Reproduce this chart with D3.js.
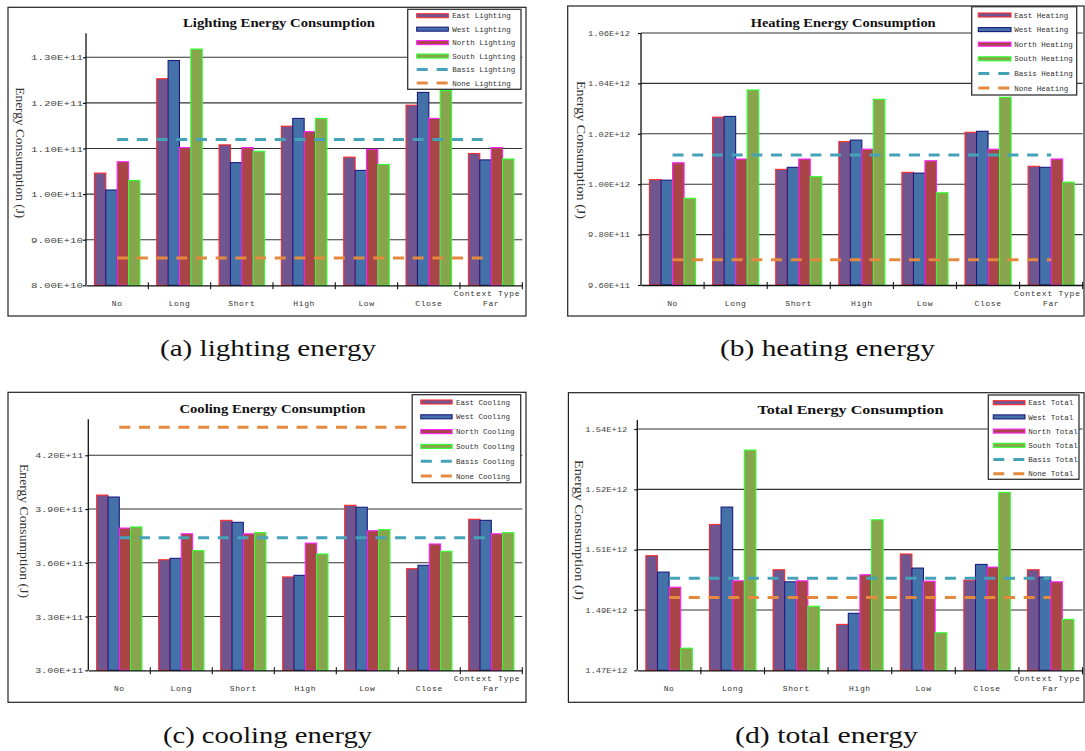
<!DOCTYPE html>
<html><head><meta charset="utf-8">
<script src="https://cdn.jsdelivr.net/npm/d3@7"></script>
<style>body{margin:0;background:#fff}svg{display:block;background:#fff}</style>
</head><body>
<svg id="chart" width="1085" height="751"></svg>
<script>
// ---------- DATA ----------
const categories = ["No", "Long", "Short", "High", "Low", "Close", "Far"];
const seriesNames = ["East", "West", "North", "South"];

const lightingEast  = [1.046e11, 1.253e11, 1.108e11, 1.149e11, 1.081e11, 1.195e11, 1.089e11];
const lightingWest  = [1.009e11, 1.293e11, 1.069e11, 1.166e11, 1.052e11, 1.223e11, 1.075e11];
const lightingNorth = [1.071e11, 1.102e11, 1.102e11, 1.137e11, 1.098e11, 1.166e11, 1.102e11];
const lightingSouth = [1.030e11, 1.318e11, 1.094e11, 1.166e11, 1.065e11, 1.227e11, 1.077e11];
const lightingBasis = [1.12e11, 1.12e11, 1.12e11, 1.12e11, 1.12e11, 1.12e11, 1.12e11];
const lightingNone  = [8.6e10, 8.6e10, 8.6e10, 8.6e10, 8.6e10, 8.6e10, 8.6e10];
const lightingTicks = [8.0e10, 9.0e10, 1.0e11, 1.1e11, 1.2e11, 1.3e11];
const lightingTickLabels = ["8.00E+10", "9.00E+10", "1.00E+11", "1.10E+11", "1.20E+11", "1.30E+11"];

const heatingEast  = [1.0018e12, 1.0266e12, 1.0059e12, 1.0169e12, 1.0047e12, 1.0206e12, 1.0071e12];
const heatingWest  = [1.0016e12, 1.0269e12, 1.0067e12, 1.0175e12, 1.0044e12, 1.0210e12, 1.0067e12];
const heatingNorth = [1.0085e12, 1.0100e12, 1.0100e12, 1.0139e12, 1.0093e12, 1.0139e12, 1.0100e12];
const heatingSouth = [0.9944e12, 1.0374e12, 1.0030e12, 1.0337e12, 0.9966e12, 1.0345e12, 1.0008e12];
const heatingBasis = [1.0116e12, 1.0116e12, 1.0116e12, 1.0116e12, 1.0116e12, 1.0116e12, 1.0116e12];
const heatingNone  = [9.70e11, 9.70e11, 9.70e11, 9.70e11, 9.70e11, 9.70e11, 9.70e11];
const heatingTicks = [9.6e11, 9.8e11, 1.0e12, 1.02e12, 1.04e12, 1.06e12];
const heatingTickLabels = ["9.60E+11", "9.80E+11", "1.00E+12", "1.02E+12", "1.04E+12", "1.06E+12"];

const coolingEast  = [3.978e11, 3.617e11, 3.837e11, 3.521e11, 3.921e11, 3.567e11, 3.843e11];
const coolingWest  = [3.967e11, 3.625e11, 3.826e11, 3.530e11, 3.910e11, 3.586e11, 3.837e11];
const coolingNorth = [3.794e11, 3.762e11, 3.762e11, 3.710e11, 3.779e11, 3.705e11, 3.762e11];
const coolingSouth = [3.800e11, 3.668e11, 3.768e11, 3.649e11, 3.785e11, 3.664e11, 3.768e11];
const coolingBasis = [3.74e11, 3.74e11, 3.74e11, 3.74e11, 3.74e11, 3.74e11, 3.74e11];
const coolingNone  = [4.356e11, 4.356e11, 4.356e11, 4.356e11, 4.356e11, 4.356e11, 4.356e11];
const coolingTicks = [3.0e11, 3.3e11, 3.6e11, 3.9e11, 4.2e11];
const coolingTickLabels = ["3.00E+11", "3.30E+11", "3.60E+11", "3.90E+11", "4.20E+11"];

const totalEast  = [1.5042e12, 1.5135e12, 1.5000e12, 1.4837e12, 1.5047e12, 1.4969e12, 1.5000e12];
const totalWest  = [1.4993e12, 1.5187e12, 1.4964e12, 1.4870e12, 1.5005e12, 1.5016e12, 1.4978e12];
const totalNorth = [1.4948e12, 1.4967e12, 1.4967e12, 1.4985e12, 1.4966e12, 1.5008e12, 1.4964e12];
const totalSouth = [1.4766e12, 1.5357e12, 1.4891e12, 1.5149e12, 1.4812e12, 1.5231e12, 1.4852e12];
const totalBasis = [1.4975e12, 1.4975e12, 1.4975e12, 1.4975e12, 1.4975e12, 1.4975e12, 1.4975e12];
const totalNone  = [1.4917e12, 1.4917e12, 1.4917e12, 1.4917e12, 1.4917e12, 1.4917e12, 1.4917e12];
const totalTicks = [1.470e12, 1.488e12, 1.506e12, 1.524e12, 1.542e12];
const totalTickLabels = ["1.47E+12", "1.49E+12", "1.51E+12", "1.52E+12", "1.54E+12"];

// ---------- STYLE ----------
const fills   = {East: "#6F5690", West: "#4571A9", North: "#A94546", South: "#88A44C"};
const strokes = {East: "#FF2B2B", West: "#1A1A80", North: "#FF22FF", South: "#30FF30"};
const basisColor = "#45A2B8", noneColor = "#E4893D";
const monoFont = "'Liberation Mono','DejaVu Sans Mono',monospace";
const serifFont = "'Liberation Serif','DejaVu Serif',serif";

const svg = d3.select("#chart");

function drawPanel(p) {
  const g = svg.append("g");
  const [fx0, fy0, fx1, fy1] = p.frame;
  g.append("rect").attr("x", fx0).attr("y", fy0).attr("width", fx1 - fx0).attr("height", fy1 - fy0)
    .attr("fill", "#fff").attr("stroke", "#222").attr("stroke-width", 1.2);

  const x = d3.scaleBand().domain(categories).range([p.left, p.right]).padding(0);
  const bw = x.bandwidth();
  const xs = d3.scaleBand().domain(seriesNames).range([bw * 0.135, bw * 0.865]).padding(0);
  const y = d3.scaleLinear().domain([p.ticks[0], p.ticks[p.ticks.length - 1]]).range([p.bottom, p.topTick]);

  // gridlines
  g.append("g").selectAll("line").data(p.ticks.slice(1)).join("line")
    .attr("x1", p.left).attr("x2", p.right)
    .attr("y1", d => y(d)).attr("y2", d => y(d))
    .attr("stroke", "#333").attr("stroke-width", 1.1);

  // bars
  const rows = [];
  seriesNames.forEach((s, si) => {
    p.series[si].forEach((v, ci) => rows.push({s, c: categories[ci], v}));
  });
  g.append("g").selectAll("rect").data(rows).join("rect")
    .attr("x", d => x(d.c) + xs(d.s))
    .attr("width", xs.bandwidth())
    .attr("y", d => y(d.v))
    .attr("height", d => y(p.ticks[0]) - y(d.v))
    .attr("fill", d => fills[d.s])
    .attr("stroke", d => strokes[d.s])
    .attr("stroke-width", 1.1);

  // reference lines
  const line = d3.line().x((d, i) => x(categories[i]) + bw / 2).y(d => y(d));
  [[p.basis, basisColor], [p.none, noneColor]].forEach(([arr, col]) => {
    g.append("path").datum(arr).attr("d", line).attr("fill", "none")
      .attr("stroke", col).attr("stroke-width", 3).attr("stroke-dasharray", "11,8.7");
  });

  // y axis
  const yAxis = d3.axisLeft(y).tickValues(p.ticks).tickFormat((d, i) => p.tickLabels[i])
    .tickSize(3).tickPadding(p.labelGap - 3).tickSizeOuter(0);
  const ya = g.append("g").attr("transform", `translate(${p.left},0)`).call(yAxis);
  ya.select(".domain").remove();
  ya.selectAll("line").attr("stroke", "#111").attr("stroke-width", 1.2);
  ya.selectAll("text").attr("font-family", monoFont).attr("font-size", p.tickFont)
    .attr("fill", "#444").attr("textLength", p.tickLen).attr("lengthAdjust", "spacingAndGlyphs");
  g.append("line").attr("x1", p.left).attr("x2", p.left).attr("y1", p.bottom).attr("y2", p.axisTop)
    .attr("stroke", "#111").attr("stroke-width", 1.3);

  // x axis
  const xAxis = d3.axisBottom(x).tickSize(0).tickSizeOuter(0);
  const xa = g.append("g").attr("transform", `translate(0,${p.bottom})`).call(xAxis);
  xa.select(".domain").attr("stroke", "#111").attr("stroke-width", 1.3);
  xa.selectAll("text").attr("y", 21).attr("dy", 0).attr("font-family", monoFont).attr("font-size", 8)
    .attr("letter-spacing", 0.6).attr("fill", "#333");
  g.append("g").selectAll("line").data(categories.slice(1).concat(["__end"])).join("line")
    .attr("x1", d => d === "__end" ? p.right : x(d)).attr("x2", d => d === "__end" ? p.right : x(d))
    .attr("y1", p.bottom - 3).attr("y2", p.bottom + 4).attr("stroke", "#111").attr("stroke-width", 1.1);
  g.append("text").attr("x", p.right - 2).attr("y", p.bottom + 11).attr("text-anchor", "end")
    .attr("font-family", monoFont).attr("font-size", 8).attr("letter-spacing", 0.75).attr("fill", "#333")
    .text("Context Type");

  // y title
  g.append("text").attr("transform", `translate(${p.yTitle[0]},${p.yTitle[1]}) rotate(90)`)
    .attr("text-anchor", "middle").attr("dy", "0.35em")
    .attr("font-family", serifFont).attr("font-size", 12.5).attr("fill", "#333")
    .attr("textLength", p.yTitle[2]).attr("lengthAdjust", "spacingAndGlyphs")
    .text("Energy Consumption (J)");

  // title
  g.append("text").attr("x", p.title[0]).attr("y", p.title[1]).attr("text-anchor", "middle")
    .attr("font-family", serifFont).attr("font-weight", "bold").attr("font-size", 13.5).attr("fill", "#111")
    .attr("textLength", p.title[2]).attr("lengthAdjust", "spacingAndGlyphs")
    .text(p.titleText);

  // legend
  const [lx0, ly0, lx1, ly1] = p.legendBox;
  const lg = g.append("g");
  lg.append("rect").attr("x", lx0).attr("y", ly0).attr("width", lx1 - lx0).attr("height", ly1 - ly0)
    .attr("fill", "#fff").attr("stroke", "#333").attr("stroke-width", 1.3);
  const entries = seriesNames.map(s => ({name: s, type: "bar"}))
    .concat([{name: "Basis", type: "line", color: basisColor}, {name: "None", type: "line", color: noneColor}]);
  entries.forEach((e, i) => {
    const ry = p.legendRow0 + i * p.legendStep;
    if (e.type === "bar") {
      lg.append("rect").attr("x", p.legendSw[0]).attr("y", ry - 2).attr("width", p.legendSw[1] - p.legendSw[0])
        .attr("height", 4).attr("fill", fills[e.name]).attr("stroke", strokes[e.name]).attr("stroke-width", 1.1);
    } else {
      lg.append("line").attr("x1", p.legendSw[0]).attr("x2", p.legendSw[1]).attr("y1", ry).attr("y2", ry)
        .attr("stroke", e.color).attr("stroke-width", 3).attr("stroke-dasharray", "11,9");
    }
    lg.append("text").attr("x", p.legendText).attr("y", ry).attr("dy", "0.35em")
      .attr("font-family", monoFont).attr("font-size", 7.5).attr("fill", "#333")
      .text(`${e.name} ${p.word}`);
  });

  // caption
  svg.append("text").attr("x", p.caption[0]).attr("y", p.caption[1]).attr("text-anchor", "middle")
    .attr("font-family", serifFont).attr("font-size", 24).attr("fill", "#111")
    .attr("textLength", p.caption[2]).attr("lengthAdjust", "spacingAndGlyphs")
    .text(p.captionText);
}

drawPanel({
  frame: [8, 7.3, 526, 316], left: 86, right: 522.3, bottom: 285.3, topTick: 57.3, axisTop: 33.3,
  ticks: lightingTicks, tickLabels: lightingTickLabels, tickFont: 8, tickLen: 52, labelGap: 3,
  series: [lightingEast, lightingWest, lightingNorth, lightingSouth], basis: lightingBasis, none: lightingNone,
  title: [279, 27.3, 192], titleText: "Lighting Energy Consumption", yTitle: [20.7, 152.8, 131],
  legendBox: [407.7, 9.3, 521, 89.3], legendRow0: 15.7, legendStep: 13.46, legendSw: [416.7, 448.3], legendText: 452.3,
  word: "Lighting", caption: [268, 356, 216], captionText: "(a) lighting energy"
});
drawPanel({
  frame: [567.7, 6, 1084, 316], left: 641, right: 1082.7, bottom: 285, topTick: 33, axisTop: 33,
  ticks: heatingTicks, tickLabels: heatingTickLabels, tickFont: 7, tickLen: 42, labelGap: 11,
  series: [heatingEast, heatingWest, heatingNorth, heatingSouth], basis: heatingBasis, none: heatingNone,
  title: [843.2, 26.5, 185], titleText: "Heating Energy Consumption", yTitle: [581, 150, 138],
  legendBox: [971.7, 6.7, 1076.7, 95], legendRow0: 15, legendStep: 14.6, legendSw: [978.3, 1011], legendText: 1014.3,
  word: "Heating", caption: [827.5, 356, 215], captionText: "(b) heating energy"
});
drawPanel({
  frame: [8, 392.3, 526, 702.3], left: 88.3, right: 522.3, bottom: 670.3, topTick: 455.3, axisTop: 419.3,
  ticks: coolingTicks, tickLabels: coolingTickLabels, tickFont: 8, tickLen: 48, labelGap: 5,
  series: [coolingEast, coolingWest, coolingNorth, coolingSouth], basis: coolingBasis, none: coolingNone,
  title: [272.5, 413.3, 186], titleText: "Cooling Energy Consumption", yTitle: [24, 531, 134],
  legendBox: [412.2, 394.7, 520.7, 482.7], legendRow0: 402, legendStep: 14.8, legendSw: [420.8, 452.1], legendText: 455.9,
  word: "Cooling", caption: [267.5, 743, 209], captionText: "(c) cooling energy"
});
drawPanel({
  frame: [568.4, 392.7, 1084, 702.3], left: 637.3, right: 1082.5, bottom: 670.3, topTick: 429, axisTop: 420,
  ticks: totalTicks, tickLabels: totalTickLabels, tickFont: 7, tickLen: 42, labelGap: 10,
  series: [totalEast, totalWest, totalNorth, totalSouth], basis: totalBasis, none: totalNone,
  title: [850.5, 413.5, 186], titleText: "Total Energy Consumption", yTitle: [579.4, 530, 140],
  legendBox: [988.3, 395, 1079, 479.3], legendRow0: 402.7, legendStep: 14.2, legendSw: [993.3, 1025], legendText: 1028.3,
  word: "Total", caption: [826.5, 743, 183], captionText: "(d) total energy"
});
</script>
</body></html>
